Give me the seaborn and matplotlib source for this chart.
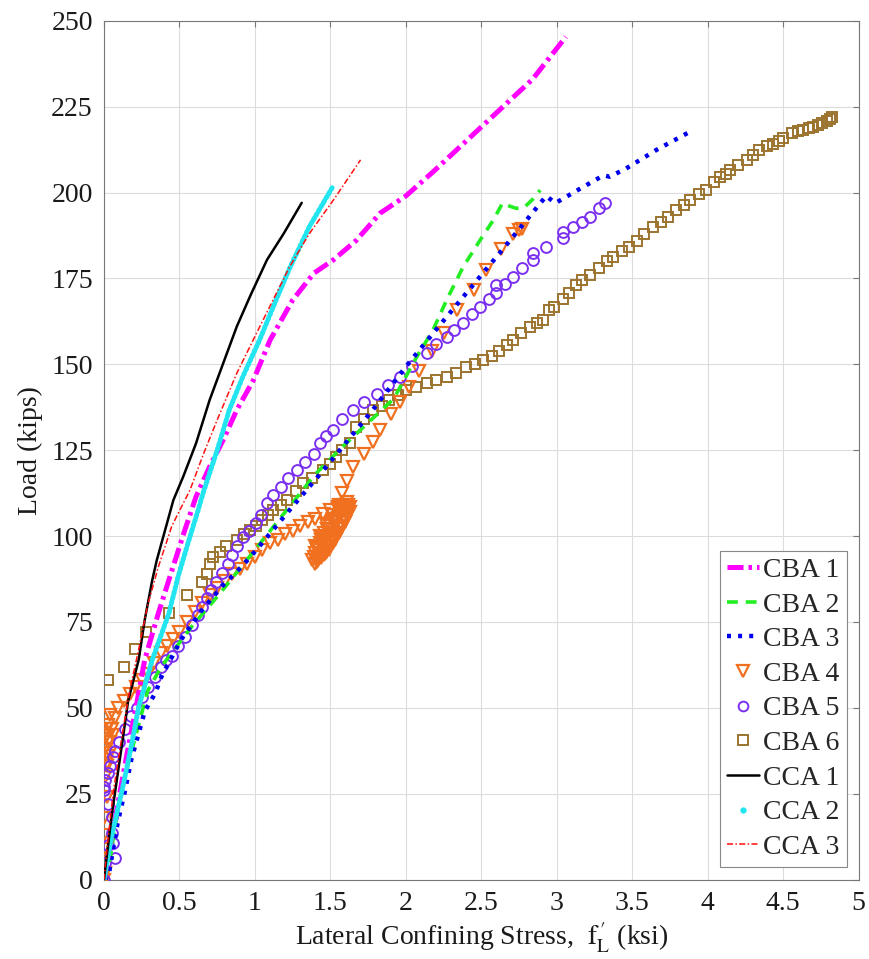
import numpy as np
import pandas as pd
import matplotlib
matplotlib.use("Agg")
import matplotlib.pyplot as plt
from matplotlib.lines import Line2D
import seaborn as sns

# ---------------- data ----------------
cba1_x = [0, 0.04, 0.10, 0.15, 0.205, 0.27, 0.36, 0.45, 0.53, 0.61, 0.70, 0.79, 0.88, 0.99, 1.10,
          1.25, 1.39, 1.52, 1.67, 1.83, 2.00, 2.18, 2.40, 2.62, 2.84, 3.06]
cba1_y = [0, 10, 24, 36, 48.4, 64, 77.5, 90, 101, 111.5, 120.2, 128, 136.7, 145.4, 157,
          168.7, 176.5, 180.4, 186, 194, 199, 206, 215, 224, 233, 245.3]

cba2_x = [0, 0.04, 0.09, 0.15, 0.29, 0.38, 0.58, 0.77, 1.00, 1.20, 1.40, 1.58, 1.75, 1.92, 2.07,
          2.18, 2.27, 2.38, 2.49, 2.58, 2.64, 2.69, 2.73, 2.78, 2.84, 2.89]
cba2_y = [0, 6, 20, 32, 55, 62, 73.6, 83.4, 96, 107, 118, 126, 133, 140, 152,
          160, 168.7, 178.4, 186, 192, 196.9, 196, 195.4, 195.5, 198, 200.7]

cba3_x = [0, 0.03, 0.09, 0.14, 0.18, 0.23, 0.27, 0.34, 0.38, 0.51, 0.65, 0.78, 0.91, 1.01, 1.23,
          1.45, 1.78, 2.00, 2.18, 2.40, 2.62, 2.80, 2.93, 2.99, 3.15, 3.31, 3.35, 3.46, 3.66, 3.87]
cba3_y = [0, 1, 16.4, 26, 34.8, 42.6, 49, 54.3, 59, 69.8, 78.5, 85.3, 91, 96, 107.6,
          119, 136.7, 149.3, 159, 170.7, 182.3, 192, 199, 196.9, 201, 205, 204.6, 207, 212.4, 217.4]

cba4_x = [0.00, 0.01, 0.00, 0.00, 0.00, 0.00, 0.02, 0.01, 0.02, 0.01, 0.03, 0.02, 0.04, 0.03, 0.05,
          0.04, 0.07, 0.09, 0.02, 0.01, 0.03, 0.02, 0.04, 0.06,
          0.13, 0.17, 0.21, 0.25, 0.29, 0.33, 0.38, 0.42, 0.46, 0.50, 0.55, 0.60, 0.65, 0.70, 0.75,
          0.80, 0.85, 0.90, 0.95, 1.00, 1.05, 1.10, 1.15, 1.20, 1.25, 1.30, 1.35, 1.40, 1.45, 1.50,
          1.55, 1.60,
          1.62, 1.59, 1.56, 1.52, 1.48, 1.44, 1.40, 1.38, 1.41, 1.44, 1.48, 1.52, 1.56, 1.60, 1.63,
          1.61, 1.58, 1.54, 1.50, 1.46, 1.42, 1.40, 1.43, 1.46, 1.50, 1.54, 1.58, 1.62, 1.60, 1.56,
          1.52, 1.47, 1.43, 1.39, 1.42, 1.45, 1.49, 1.53, 1.57, 1.61, 1.59, 1.55, 1.51, 1.47, 1.44,
          1.41, 1.40, 1.43, 1.47, 1.51, 1.55, 1.59, 1.62, 1.58, 1.54, 1.50, 1.46, 1.42, 1.45, 1.49,
          1.53, 1.57, 1.61, 1.63, 1.60, 1.57, 1.53, 1.49, 1.45, 1.48, 1.52, 1.56, 1.60,
          1.56, 1.58, 1.61, 1.65, 1.72, 1.78, 1.83, 1.90, 1.96, 2.02, 2.09, 2.17, 2.25, 2.34, 2.45,
          2.53, 2.63, 2.71, 2.75, 2.77]
cba4_y = [0, 2, 5, 9, 13, 18, 24, 30, 34, 38, 36, 42, 40, 45, 44,
          48, 47, 50, 33, 36, 40, 44, 37, 42,
          52, 54, 56, 58, 60, 63, 66, 68, 70, 72, 75, 78, 80.5, 83, 85,
          87, 89, 90.5, 92, 94, 96, 98, 99, 100.5, 101.5, 103, 104, 105, 106.5, 107.5,
          108.5, 109,
          108, 105, 102, 99, 96, 93.5, 92, 93, 96, 99, 102, 104, 106, 107.5, 108.5,
          106, 103, 100, 97, 94.5, 93, 95, 98, 101, 103, 105, 107, 109, 104, 101,
          98, 95, 94, 94, 96.5, 99.5, 102, 104.5, 106.5, 109, 105.5, 102.5, 99.5, 97, 95,
          92.5, 97, 100, 103.5, 106, 108, 108.5, 107, 103, 100.5, 98, 96, 94, 97.5, 101,
          104, 107.5, 110, 107, 104, 102, 99, 96, 98.5, 102, 105, 106, 108,
          109, 112.5, 116, 120, 124, 127.5, 131, 135.5, 139, 143.5, 148, 154, 159, 165.8, 171.6,
          177.5, 183.7, 188, 189, 189.5]

cba5_x = [0, 0.01, 0.07, 0.03, 0.06, 0.05, 0.05, 0.03, 0.00, 0.00, 0.01, 0.03, 0.04, 0.06, 0.07,
          0.10, 0.14, 0.18, 0.22, 0.25, 0.29, 0.34, 0.38, 0.41, 0.45, 0.49, 0.54, 0.58, 0.62, 0.65,
          0.68, 0.71, 0.74, 0.78, 0.82, 0.85, 0.88, 0.92, 0.96, 1.01, 1.04, 1.08, 1.12, 1.17, 1.22,
          1.28, 1.33, 1.39, 1.43, 1.47, 1.52, 1.58, 1.65, 1.72, 1.81, 1.88, 1.96, 2.04, 2.14, 2.20,
          2.27, 2.32, 2.38, 2.44, 2.49, 2.55, 2.60, 2.60, 2.66, 2.71, 2.77, 2.84, 2.84, 2.93, 3.04,
          3.04, 3.11, 3.17, 3.22, 3.28, 3.32]
cba5_y = [0, 4.8, 6.2, 10, 10.6, 13.5, 18.3, 22, 26, 27, 29, 31, 33, 35.8, 37.5,
          40, 44, 47.5, 50, 53.3, 56, 59, 62, 64, 65, 68, 70.7, 74, 77, 79.5,
          82, 84.3, 86.5, 89.2, 92, 94.5, 97, 99.8, 101.5, 103.7, 106, 109.5, 112, 114.4, 117,
          119.2, 121.5, 124, 127, 129, 130.9, 134, 136.7, 139, 141.5, 144, 146.4, 149.5, 153.2, 156,
          158, 160, 162, 164.5, 166.8, 169, 170.7, 173, 173.5, 175.5, 178, 180.4, 182.5, 184.2, 186.7,
          188.5, 190, 191.5, 193, 195.4, 196.9]

cba6_x = [0.03, 0.13, 0.205, 0.28, 0.43, 0.55, 0.65, 0.68, 0.70, 0.72, 0.77, 0.81, 0.88, 0.93, 0.97,
          1.01, 1.05, 1.09, 1.12, 1.17, 1.21, 1.27, 1.32, 1.38, 1.45, 1.50, 1.54, 1.58, 1.63, 1.67,
          1.72, 1.78, 1.84, 1.89, 1.95, 2.00, 2.07, 2.14, 2.20, 2.27, 2.33, 2.40, 2.46, 2.51, 2.57,
          2.62, 2.67, 2.71, 2.76, 2.82, 2.87, 2.91, 2.95, 2.98, 3.04, 3.08, 3.13, 3.17, 3.22, 3.28,
          3.33, 3.37, 3.43, 3.48, 3.53, 3.58, 3.64, 3.69, 3.74, 3.79, 3.84, 3.88, 3.94, 3.99, 4.04,
          4.08, 4.12, 4.15, 4.20, 4.26, 4.30, 4.34, 4.39, 4.43, 4.47, 4.50, 4.56, 4.60, 4.63, 4.67,
          4.70, 4.73, 4.76, 4.79, 4.81, 4.82]
cba6_y = [58, 62, 67, 72, 77.5, 83, 86.7, 89, 92, 94, 95.5, 97, 98.9, 100.5, 101.8,
          103, 104.7, 106, 107.6, 109, 110.5, 113, 115.4, 117, 119.3, 121, 123, 125, 127, 131.8,
          134, 136.7, 138, 139.6, 141, 142.5, 143.5, 144.5, 145.5, 146.4, 147.5, 149.3, 150, 151.2, 152.5,
          154, 155.5, 157, 159, 161, 162, 163, 165.8, 166.8, 169, 170.7, 173, 174.5, 176, 178,
          180, 181.3, 183, 184.2, 186, 188, 190, 191.5, 193, 194.9, 196.5, 197.8, 199.5, 200.7, 203,
          204.5, 205.5, 206.6, 208, 209.5, 211, 212.4, 213.5, 214.2, 215, 215.8, 217.3, 217.8, 218.2, 218.8,
          219.2, 219.7, 220.1, 220.7, 221.5, 222]

cca1_x = [0, 0.01, 0.05, 0.095, 0.13, 0.16, 0.23, 0.27, 0.32, 0.35, 0.46, 0.525, 0.61, 0.70, 0.79,
          0.88, 0.97, 1.08, 1.19, 1.31]
cca1_y = [0, 3.8, 18.3, 32, 42.6, 52, 64, 75.6, 87.2, 93, 110.5, 117.3, 127, 139.6, 150.3,
          161, 170, 180.4, 188, 197]

cca2_x = [0, 0.05, 0.12, 0.18, 0.23, 0.32, 0.43, 0.49, 0.55, 0.62, 0.66, 0.75, 0.83, 0.92, 1.03,
          1.14, 1.23, 1.36, 1.52]
cca2_y = [0, 12.5, 26, 38.7, 50.3, 64, 77.5, 88, 97, 107, 113, 125, 136.7, 146.4, 157,
          168.7, 178, 190, 202]

cca3_x = [0, 0.02, 0.06, 0.12, 0.17, 0.23, 0.29, 0.36, 0.45, 0.57, 0.66, 0.75, 0.88, 1.01, 1.12,
          1.23, 1.36, 1.52, 1.70]
cca3_y = [0, 9, 25, 42, 55, 67, 80, 91, 103, 113.4, 124, 133.8, 147.4, 159, 168.7,
          178.4, 188, 197.8, 209.5]

labels = ["CBA 1", "CBA 2", "CBA 3", "CBA 4", "CBA 5", "CBA 6", "CCA 1", "CCA 2", "CCA 3"]
x_ticks = [0, 0.5, 1, 1.5, 2, 2.5, 3, 3.5, 4, 4.5, 5]
y_ticks = [0, 25, 50, 75, 100, 125, 150, 175, 200, 225, 250]

# ---------------- style ----------------
sns.set_style("white")
plt.rcParams["font.family"] = ["Liberation Serif", "DejaVu Serif"]
plt.rcParams["mathtext.fontset"] = "stix"

C_MAG = "#FF00FF"
C_GRN = "#22EE22"
C_BLU = "#0000EE"
C_ORA = "#F07020"
C_PUR = "#7B2FF0"
C_BRN = "#9C7430"
C_BLK = "#000000"
C_CYA = "#22E5F0"
C_RED = "#FF1010"

fig = plt.figure(figsize=(8.7, 9.59), dpi=100)
ax = fig.add_axes([0.1195, 0.0827, 0.8675, 0.8957])

def line(x, y, color, lw, dashes=None, capstyle="butt", z=2):
    sns.lineplot(x=x, y=y, sort=False, estimator=None, ax=ax, color=color,
                 linewidth=lw, legend=False, zorder=z)
    ln = ax.lines[-1]
    if dashes is not None:
        ln.set_dashes(dashes)
    ln.set_dash_capstyle(capstyle)
    return ln

def marks(x, y, color, marker, ms, mew=1.3, z=3):
    sns.lineplot(x=x, y=y, sort=False, estimator=None, ax=ax, color=color,
                 linestyle="none", marker=marker, markersize=ms,
                 markerfacecolor="none", markeredgecolor=color, markeredgewidth=mew,
                 legend=False, zorder=z)

# marker series
marks(cba6_x, cba6_y, C_BRN, "s", 7.8, mew=1.4)
marks(cba4_x, cba4_y, C_ORA, "v", 9, mew=1.6)
marks(cba5_x, cba5_y, C_PUR, "o", 7.8, mew=1.4)

# line series
line(cba2_x, cba2_y, C_GRN, 2.6, dashes=(3.0, 2.2), z=4)
line(cba3_x, cba3_y, C_BLU, 3.2, dashes=(0.9, 1.6), z=4)
line(cba1_x, cba1_y, C_MAG, 3.6, dashes=(3.2, 1.0, 0.7, 1.0), z=4)
line(cca2_x, cca2_y, C_CYA, 3.6, dashes=(0.4, 0.6), capstyle="round", z=4)
line(cca1_x, cca1_y, C_BLK, 1.8, z=5)
line(cca3_x, cca3_y, C_RED, 1.1, dashes=(4, 1.5, 1, 1.5), z=5)

# axes
ax.set_xlim(0, 5)
ax.set_ylim(0, 250)
ax.set_xticks(x_ticks)
ax.set_xticklabels([f"{t:g}" for t in x_ticks])
ax.set_yticks(y_ticks)
ax.set_yticklabels([str(t) for t in y_ticks])
ax.grid(True, color="#dcdcdc", linewidth=0.8)
ax.set_axisbelow(True)
for s in ax.spines.values():
    s.set_color("#777777")
    s.set_linewidth(0.8)
ax.tick_params(direction="in", length=4, width=0.8, color="#777777",
               top=True, right=True, labelsize=20, labelcolor="#1a1a1a", pad=8)
ax.set_xlabel(r"Lateral Confining Stress,  $\mathrm{f}^{\,\prime}_{\mathrm{L}}$ (ksi)",
              fontsize=20, color="#1a1a1a", labelpad=4)
ax.set_ylabel("Load (kips)", fontsize=20, color="#1a1a1a", labelpad=6)

# legend
handles = [
    Line2D([], [], color=C_MAG, lw=3.6, dashes=(3.2, 1.0, 0.7, 1.0)),
    Line2D([], [], color=C_GRN, lw=2.6, dashes=(3.0, 2.2)),
    Line2D([], [], color=C_BLU, lw=3.2, dashes=(0.9, 1.6)),
    Line2D([], [], color=C_ORA, ls="none", marker="v", ms=8.5, mfc="none", mew=1.6),
    Line2D([], [], color=C_PUR, ls="none", marker="o", ms=7, mfc="none", mew=1.4),
    Line2D([], [], color=C_BRN, ls="none", marker="s", ms=7, mfc="none", mew=1.4),
    Line2D([], [], color=C_BLK, lw=1.8),
    Line2D([], [], color=C_CYA, ls="none", marker=".", ms=7),
    Line2D([], [], color=C_RED, lw=1.1, dashes=(4, 1.5, 1, 1.5)),
]
leg = ax.legend(handles, labels, loc="lower right", bbox_to_anchor=(0.984, 0.015),
                borderaxespad=0, fontsize=20, frameon=True, fancybox=False,
                framealpha=1, edgecolor="#888888", handlelength=1.15,
                handletextpad=0.15, labelspacing=0.33, borderpad=0.25)
leg.get_frame().set_linewidth(0.8)

fig.savefig("out.png", dpi=100)
